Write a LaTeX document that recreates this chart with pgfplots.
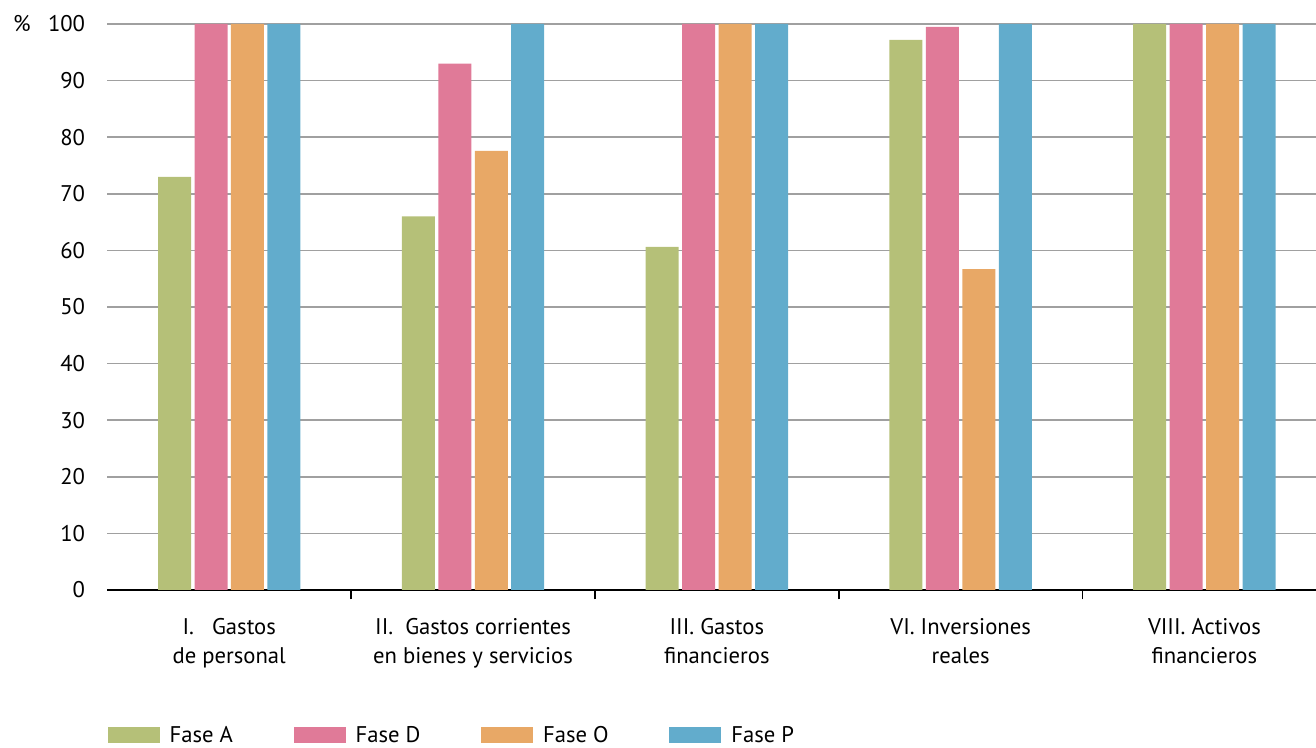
\documentclass[border=0pt]{standalone}
\usepackage{pgfplots}
\pgfplotsset{compat=1.18}
\usepackage{fontspec}
\setmainfont{PT Sans}
\definecolor{cA}{HTML}{B5C078}
\definecolor{cD}{HTML}{E07A98}
\definecolor{cO}{HTML}{E8A866}
\definecolor{cP}{HTML}{62ACCC}
\definecolor{gridc}{HTML}{A0A0A0}
\newcommand{\cf}{\fontsize{17}{22}\selectfont}
\begin{document}
\begin{tikzpicture}
\begin{axis}[
  scale only axis,
  width=914.25pt, height=424.5pt,
  xmin=-0.5, xmax=4.5,
  ymin=0, ymax=100,
  ytick={0,10,...,100},
  xtick={0,1,2,3,4},
  xticklabels={{I.\ \ \ Gastos\\de personal},{II.\ \ Gastos corrientes\\en bienes y servicios},{III. Gastos\\financieros},{VI. Inversiones\\reales},{VIII. Activos\\financieros}},
  extra x ticks={0.5,1.5,2.5,3.5},
  extra x tick labels={},
  extra x tick style={major tick length=7pt, tick style={black, line width=1.2pt}, tick align=outside, grid=none},
  major tick length=0pt,
  axis lines*=left,
  y axis line style={draw=none},
  x axis line style={black, line width=1.5pt, -},
  ymajorgrids,
  grid style={gridc, line width=1.2pt},
  /pgf/number format/assume math mode=true,
  every tick label/.append style={font=\cf},
  yticklabel style={inner sep=0pt, anchor=east, xshift=-16.5pt},
  xticklabel style={align=center, inner sep=0pt, anchor=north, yshift=-21pt},
  ylabel={\%},
  ylabel style={rotate=-90, at={(axis description cs:0,1)}, anchor=center, xshift=-64pt, font=\cf},
  ybar=2.6pt, bar width=24.75pt,
  clip=false,
  legend columns=4,
  legend style={at={(axis description cs:0,0)}, anchor=west, yshift=-109pt, draw=none, inner sep=0pt, font=\cf,
    nodes={inner sep=0pt},
    /tikz/every odd column/.append style={column sep=7.5pt},
    /tikz/every even column/.append style={column sep=45.5pt}},
  legend image code/.code={\fill[#1] (0pt,-6pt) rectangle (39pt,6pt);},
]
\addplot[fill=cA, draw=none] coordinates {(0,73) (1,66) (2,60.6) (3,97.2) (4,100)};
\addplot[fill=cD, draw=none] coordinates {(0,100) (1,93) (2,100) (3,99.5) (4,100)};
\addplot[fill=cO, draw=none] coordinates {(0,100) (1,77.6) (2,100) (3,56.7) (4,100)};
\addplot[fill=cP, draw=none] coordinates {(0,100) (1,100) (2,100) (3,100) (4,100)};
\legend{Fase A, Fase D, Fase O, Fase P}
\end{axis}
\pgfresetboundingbox
\path[use as bounding box] (-80.5pt,-118.5pt) rectangle (906.5pt,442.5pt);
\end{tikzpicture}
\end{document}
